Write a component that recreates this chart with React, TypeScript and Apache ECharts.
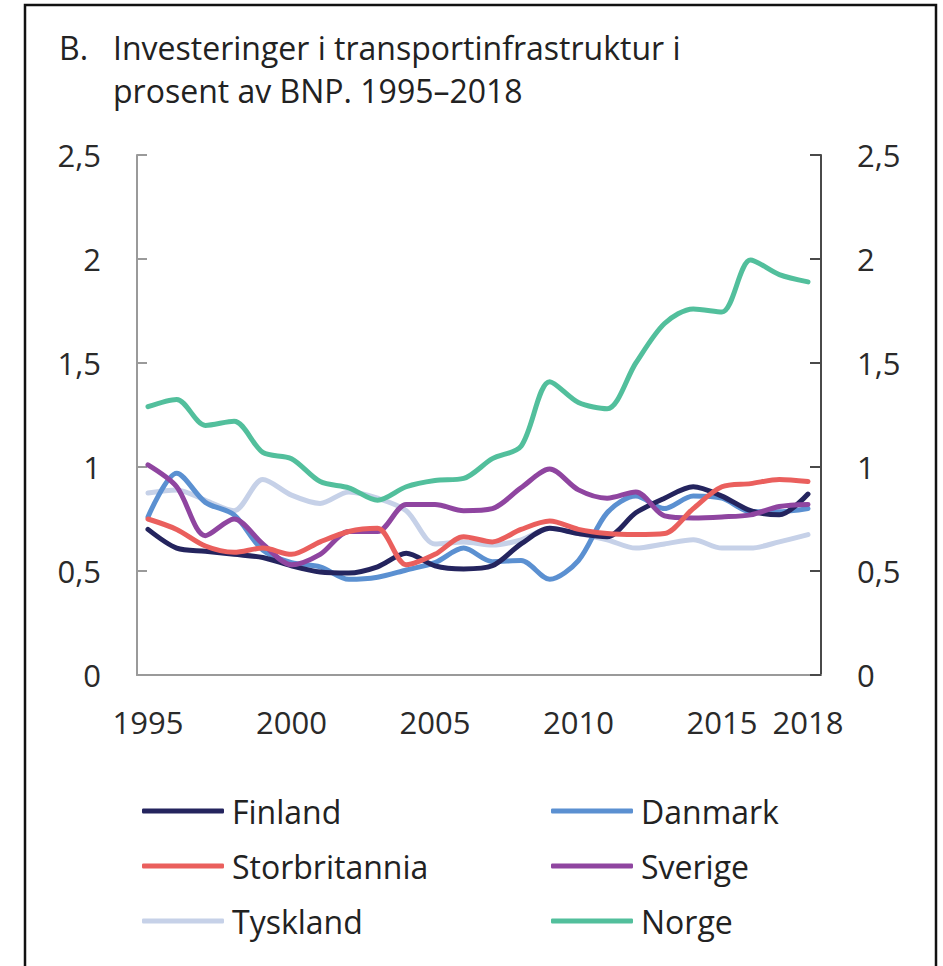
import React, { useEffect, useRef } from "react";
import * as echarts from "echarts";

const FONT = "'Open Sans', 'Noto Sans', sans-serif";

const years = [
  1995, 1996, 1997, 1998, 1999, 2000, 2001, 2002, 2003, 2004, 2005, 2006,
  2007, 2008, 2009, 2010, 2011, 2012, 2013, 2014, 2015, 2016, 2017, 2018,
];

const finland = [
  0.7, 0.61, 0.595, 0.58, 0.565, 0.525, 0.495, 0.49, 0.52, 0.585, 0.525, 0.51,
  0.525, 0.63, 0.705, 0.68, 0.665, 0.78, 0.85, 0.905, 0.86, 0.79, 0.77, 0.87,
];
const danmark = [
  0.76, 0.97, 0.83, 0.77, 0.6, 0.54, 0.52, 0.46, 0.47, 0.505, 0.54, 0.61,
  0.545, 0.55, 0.46, 0.55, 0.78, 0.86, 0.8, 0.86, 0.85, 0.785, 0.785, 0.8,
];
const storbritannia = [
  0.75, 0.7, 0.62, 0.59, 0.61, 0.58, 0.64, 0.69, 0.705, 0.53, 0.58, 0.665,
  0.64, 0.7, 0.74, 0.7, 0.68, 0.675, 0.68, 0.8, 0.905, 0.92, 0.94, 0.93,
];
const sverige = [
  1.01, 0.905, 0.67, 0.75, 0.63, 0.53, 0.58, 0.69, 0.69, 0.82, 0.82, 0.79,
  0.8, 0.9, 0.99, 0.89, 0.85, 0.88, 0.765, 0.755, 0.76, 0.77, 0.81, 0.82,
];
const tyskland = [
  0.875, 0.89, 0.84, 0.79, 0.94, 0.865, 0.825, 0.88, 0.85, 0.79, 0.63, 0.64,
  0.625, 0.65, 0.705, 0.68, 0.65, 0.61, 0.63, 0.65, 0.61, 0.61, 0.64, 0.675,
];
const norge = [
  1.29, 1.325, 1.2, 1.22, 1.07, 1.04, 0.93, 0.9, 0.84, 0.905, 0.935, 0.945,
  1.04, 1.1, 1.41, 1.31, 1.28, 1.5, 1.69, 1.76, 1.745, 1.995, 1.925, 1.89,
];

const xTickYears = [1995, 2000, 2005, 2010, 2015, 2018];
const yTicks = [0, 0.5, 1, 1.5, 2, 2.5];

const seriesDefs = [
  { name: "Tyskland", values: tyskland, color: "#c6d1e8" },
  { name: "Danmark", values: danmark, color: "#5b90d1" },
  { name: "Finland", values: finland, color: "#24245e" },
  { name: "Sverige", values: sverige, color: "#8f45a0" },
  { name: "Storbritannia", values: storbritannia, color: "#ea5f5d" },
  { name: "Norge", values: norge, color: "#52bf9c" },
];

const legendLeft = ["Finland", "Storbritannia", "Tyskland"];
const legendRight = ["Danmark", "Sverige", "Norge"];

const titleLetter = "B.";
const titleText = "Investeringer i transportinfrastruktur i\nprosent av BNP. 1995–2018";

const fmtY = (v: number) => String(v).replace(".", ",");

export default function App() {
  const ref = useRef<HTMLDivElement>(null);

  useEffect(() => {
    if (!ref.current) return;
    const chart = echarts.init(ref.current, undefined, { renderer: "svg" });

    const titleStyle = {
      fontSize: 32,
      fontWeight: "normal" as const,
      fontFamily: FONT,
      color: "#222",
      lineHeight: 43,
    };
    const legendBase = {
      orient: "vertical" as const,
      top: 795,
      padding: 0,
      itemWidth: 82,
      itemHeight: 5,
      itemGap: 23,
      icon: "roundRect",
      textStyle: {
        fontSize: 32,
        fontFamily: FONT,
        color: "#222",
        lineHeight: 32,
        padding: [0, 0, 0, 3],
      },
    };

    chart.setOption({
      animation: false,
      backgroundColor: "#ffffff",
      title: [
        { text: titleLetter, left: 59, top: 26, padding: 0, textStyle: titleStyle },
        { text: titleText, left: 113, top: 26, padding: 0, textStyle: titleStyle },
      ],
      legend: [
        { ...legendBase, left: 142, data: legendLeft },
        { ...legendBase, left: 551, data: legendRight },
      ],
      grid: { left: 137, right: 122, top: 155, height: 520, containLabel: false },
      xAxis: {
        type: "value",
        min: 1994.617,
        max: 2018.453,
        splitLine: { show: false },
        axisLine: { show: true, lineStyle: { color: "#9a9a9a", width: 2 } },
        axisTick: { show: false },
        axisLabel: {
          customValues: xTickYears,
          formatter: (v: number) => String(Math.round(v)),
          fontSize: 31,
          fontFamily: FONT,
          color: "#2a2a2a",
          margin: 31,
        },
      },
      yAxis: [
        {
          type: "value",
          position: "left",
          min: 0,
          max: 2.5,
          interval: 0.5,
          splitLine: { show: false },
          axisLine: { show: true, lineStyle: { color: "#9a9a9a", width: 2 } },
          axisTick: { show: true, inside: true, length: 10, lineStyle: { color: "#9a9a9a", width: 2 } },
          axisLabel: {
            customValues: yTicks,
            formatter: fmtY,
            fontSize: 31,
            fontFamily: FONT,
            color: "#2a2a2a",
            margin: 36,
          },
        },
        {
          type: "value",
          position: "right",
          min: 0,
          max: 2.5,
          interval: 0.5,
          splitLine: { show: false },
          axisLine: { show: true, lineStyle: { color: "#4a4a4a", width: 2 } },
          axisTick: { show: true, inside: true, length: 11, lineStyle: { color: "#4a4a4a", width: 2 } },
          axisLabel: {
            formatter: fmtY,
            fontSize: 31,
            fontFamily: FONT,
            color: "#2a2a2a",
            margin: 36,
          },
        },
      ],
      graphic: [
        {
          type: "rect",
          silent: true,
          z: -1,
          shape: { x: 25, y: 5, width: 911, height: 1000 },
          style: { fill: "none", stroke: "#111", lineWidth: 2.5 },
        },
      ],
      series: seriesDefs.map((s) => ({
        name: s.name,
        type: "line",
        yAxisIndex: 0,
        data: years.map((y, i) => [y, s.values[i]]),
        smooth: 0.3,
        symbol: "none",
        color: s.color,
        itemStyle: { color: s.color },
        lineStyle: { color: s.color, width: 5, cap: "round", join: "round" },
        emphasis: { disabled: true },
      })),
    });

    return () => chart.dispose();
  }, []);

  return (
    <div
      ref={ref}
      style={{ position: "absolute", left: 0, top: 0, width: 943, height: 966 }}
    />
  );
}
